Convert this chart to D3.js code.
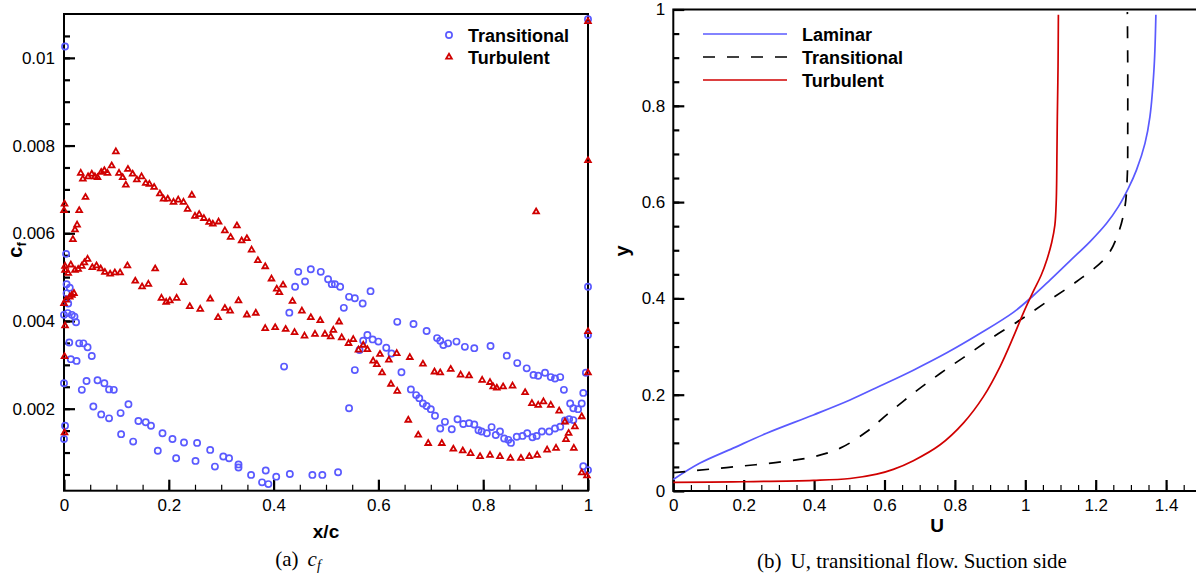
<!DOCTYPE html>
<html>
<head>
<meta charset="utf-8">
<script src="https://cdn.jsdelivr.net/npm/d3@7"></script>
<style>
body{margin:0;background:#fff;}
text{font-family:"Liberation Sans",Arial,Helvetica,sans-serif;fill:#000;}
.cap{font-family:"Liberation Serif","Times New Roman",serif;font-size:21px;}
</style>
</head>
<body>
<svg id="chart" width="1196" height="578"></svg>
<script>
// (a) skin friction, [x/c, cf]
var transitionalCf = [
    [0.002,0.01026],[0.004,0.00553],[0.005,0.00484],[0.011,0.00476],[0.005,0.00463],[0.008,0.00440],
    [0.000,0.00414],[0.007,0.00418],[0.015,0.00414],[0.020,0.00410],[0.023,0.00397],[0.010,0.00351],
    [0.029,0.00349],[0.037,0.00349],[0.045,0.00340],[0.053,0.00320],[0.013,0.00313],[0.024,0.00309],
    [0.000,0.00258],[0.034,0.00243],[0.043,0.00263],[0.064,0.00265],[0.077,0.00258],[0.086,0.00244],
    [0.095,0.00243],[0.056,0.00205],[0.071,0.00187],[0.086,0.00178],[0.108,0.00190],[0.123,0.00210],
    [0.002,0.00161],[0.000,0.00131],[0.109,0.00142],[0.132,0.00125],[0.142,0.00172],[0.156,0.00169],
    [0.166,0.00161],[0.179,0.00104],[0.188,0.00144],[0.207,0.00131],[0.214,0.00087],[0.229,0.00123],
    [0.251,0.00081],[0.254,0.00122],[0.279,0.00106],[0.288,0.00068],[0.304,0.00091],[0.315,0.00087],
    [0.333,0.00073],[0.333,0.00066],[0.357,0.00049],[0.378,0.00032],[0.385,0.00059],[0.390,0.00028],
    [0.405,0.00045],[0.431,0.00051],[0.474,0.00049],[0.493,0.00049],[0.523,0.00055],
    [0.420,0.00296],[0.430,0.00419],[0.441,0.00478],[0.447,0.00512],[0.460,0.00490],[0.471,0.00518],
    [0.490,0.00512],[0.504,0.00495],[0.511,0.00484],[0.517,0.00484],[0.527,0.00478],[0.534,0.00430],
    [0.544,0.00455],[0.555,0.00452],[0.570,0.00440],[0.585,0.00468],[0.544,0.00201],[0.555,0.00288],
    [0.564,0.00334],[0.571,0.00355],[0.579,0.00368],[0.589,0.00358],[0.600,0.00353],[0.615,0.00339],
    [0.625,0.00326],[0.644,0.00283],[0.636,0.00398],[0.667,0.00393],[0.692,0.00377],[0.712,0.00361],
    [0.718,0.00355],[0.724,0.00345],[0.733,0.00349],[0.749,0.00353],[0.765,0.00341],[0.783,0.00338],
    [0.814,0.00343],[0.845,0.00321],[0.865,0.00304],[0.883,0.00292],[0.896,0.00277],[0.905,0.00275],
    [0.918,0.00282],[0.929,0.00272],[0.937,0.00269],[0.947,0.00272],[0.954,0.00243],[0.966,0.00212],
    [0.972,0.00201],[0.981,0.00199],[0.988,0.00212],[0.991,0.00236],
    [0.662,0.00244],[0.672,0.00231],[0.678,0.00224],[0.685,0.00212],[0.692,0.00206],[0.700,0.00199],
    [0.708,0.00184],[0.718,0.00155],[0.727,0.00170],[0.740,0.00153],[0.751,0.00176],[0.762,0.00165],
    [0.773,0.00167],[0.783,0.00164],[0.791,0.00151],[0.797,0.00148],[0.807,0.00144],[0.816,0.00158],
    [0.824,0.00140],[0.832,0.00148],[0.840,0.00132],[0.848,0.00129],[0.853,0.00122],[0.864,0.00136],
    [0.875,0.00138],[0.884,0.00144],[0.894,0.00135],[0.902,0.00138],[0.912,0.00148],[0.926,0.00148],
    [0.937,0.00155],[0.947,0.00159],[0.956,0.00173],[0.964,0.00176],[0.972,0.00174],
    [1.000,0.01088],[1.000,0.00478],[1.000,0.00368],[0.996,0.00282],[0.991,0.00069],[1.000,0.00060]
];
var turbulentCf = [
    [0.001,0.00667],[0.000,0.00652],[0.002,0.00525],[0.002,0.00516],[0.000,0.00440],[0.002,0.00389],
    [0.001,0.00319],[0.001,0.00145],[0.004,0.00448],[0.011,0.00455],[0.015,0.00459],[0.019,0.00463],
    [0.017,0.00586],[0.021,0.00608],[0.025,0.00619],[0.029,0.00652],[0.032,0.00737],[0.036,0.00724],
    [0.041,0.00682],[0.046,0.00729],[0.053,0.00735],[0.059,0.00729],[0.064,0.00727],[0.071,0.00739],
    [0.077,0.00743],[0.083,0.00737],[0.091,0.00754],[0.099,0.00786],[0.105,0.00737],[0.112,0.00727],
    [0.118,0.00710],[0.122,0.00746],[0.131,0.00735],[0.139,0.00722],[0.148,0.00729],[0.156,0.00714],
    [0.163,0.00712],[0.172,0.00705],[0.183,0.00690],[0.190,0.00678],[0.198,0.00678],[0.209,0.00671],
    [0.218,0.00676],[0.228,0.00671],[0.236,0.00655],[0.244,0.00687],[0.250,0.00639],[0.258,0.00643],
    [0.267,0.00634],[0.277,0.00625],[0.284,0.00621],[0.295,0.00626],[0.307,0.00606],[0.318,0.00591],
    [0.330,0.00617],[0.339,0.00583],[0.349,0.00588],[0.358,0.00562],[0.370,0.00538],[0.384,0.00524],
    [0.396,0.00496],[0.406,0.00473],[0.411,0.00465],[0.418,0.00482],[0.436,0.00445],[0.454,0.00423],
    [0.471,0.00408],[0.489,0.00401],[0.514,0.00379],[0.525,0.00398],[0.543,0.00349],[0.562,0.00334],
    [0.579,0.00335],[0.597,0.00301],[0.607,0.00282],[0.624,0.00256],[0.636,0.00240],[0.657,0.00174],
    [0.676,0.00140],[0.695,0.00121],[0.721,0.00121],[0.743,0.00108],[0.761,0.00104],[0.776,0.00098],
    [0.794,0.00091],[0.813,0.00094],[0.832,0.00091],[0.852,0.00087],[0.872,0.00087],[0.888,0.00091],
    [0.903,0.00094],[0.922,0.00106],[0.939,0.00110],[0.958,0.00130],[0.973,0.00110],[0.988,0.00054],
    [0.998,0.00047],
    [0.008,0.00509],[0.013,0.00528],[0.021,0.00516],[0.027,0.00518],[0.034,0.00525],[0.039,0.00533],
    [0.045,0.00541],[0.054,0.00522],[0.062,0.00526],[0.070,0.00519],[0.078,0.00511],[0.088,0.00507],
    [0.097,0.00510],[0.107,0.00510],[0.121,0.00526],[0.136,0.00491],[0.149,0.00478],[0.161,0.00484],
    [0.174,0.00519],[0.186,0.00452],[0.195,0.00443],[0.202,0.00446],[0.215,0.00452],[0.228,0.00488],
    [0.240,0.00433],[0.260,0.00427],[0.279,0.00450],[0.294,0.00408],[0.307,0.00429],[0.317,0.00423],
    [0.333,0.00446],[0.349,0.00414],[0.366,0.00418],[0.384,0.00383],[0.403,0.00385],[0.423,0.00381],
    [0.440,0.00374],[0.459,0.00366],[0.479,0.00370],[0.498,0.00370],[0.509,0.00364],[0.530,0.00362],
    [0.552,0.00358],[0.571,0.00345],[0.590,0.00309],[0.603,0.00324],[0.620,0.00311],[0.635,0.00326],
    [0.660,0.00317],[0.685,0.00302],[0.707,0.00284],[0.718,0.00282],[0.738,0.00290],[0.757,0.00277],
    [0.773,0.00275],[0.798,0.00265],[0.813,0.00260],[0.819,0.00250],[0.826,0.00247],[0.838,0.00250],
    [0.856,0.00252],[0.880,0.00237],[0.893,0.00212],[0.905,0.00208],[0.915,0.00216],[0.929,0.00208],
    [0.945,0.00195],[0.956,0.00170],[0.963,0.00144],[0.975,0.00159],[0.988,0.00182],
    [1.000,0.01083],[1.000,0.00766],[1.000,0.00376],[1.000,0.00282],[0.901,0.00649]
];
var cfXTicks = [0, 0.2, 0.4, 0.6, 0.8, 1];
var cfYTicks = [0.002, 0.004, 0.006, 0.008, 0.01];

// (b) velocity profiles, [U, y]
var laminarU = [
    [0,0.024],[0.076,0.058],[0.170,0.089],[0.265,0.120],[0.398,0.158],[0.502,0.189],[0.587,0.218],
    [0.682,0.251],[0.777,0.287],[0.871,0.327],[0.966,0.371],[1.023,0.406],[1.070,0.438],[1.127,0.478],
    [1.184,0.518],[1.231,0.556],[1.264,0.590],[1.293,0.629],[1.316,0.667],[1.340,0.722],[1.354,0.777],
    [1.366,0.881],[1.371,0.989]
];
var transitionalU = [
    [0,0.038],[0.057,0.042],[0.170,0.050],[0.313,0.061],[0.398,0.071],[0.474,0.089],[0.549,0.123],
    [0.606,0.158],[0.682,0.203],[0.758,0.244],[0.834,0.282],[0.909,0.320],[0.985,0.355],[1.061,0.393],
    [1.146,0.435],[1.231,0.487],[1.264,0.535],[1.283,0.590],[1.290,0.660],[1.291,0.743],[1.291,0.881],
    [1.290,0.995]
];
var turbulentU = [
    [0,0.018],[0.170,0.019],[0.398,0.022],[0.502,0.026],[0.578,0.035],[0.625,0.045],[0.682,0.063],
    [0.758,0.096],[0.824,0.141],[0.881,0.196],[0.928,0.258],[0.966,0.320],[0.994,0.369],[1.023,0.415],
    [1.045,0.448],[1.062,0.482],[1.075,0.516],[1.084,0.552],[1.088,0.604],[1.090,0.708],[1.091,0.777],
    [1.093,0.881],[1.094,0.989]
];
var uXTicks = [0, 0.2, 0.4, 0.6, 0.8, 1, 1.2, 1.4];
var uYTicks = [0, 0.2, 0.4, 0.6, 0.8, 1];

var blue = "#5a5aff", red = "#d00000";
var svg = d3.select("#chart");
svg.append("rect").attr("width", 1196).attr("height", 578).attr("fill", "#fff");

var boxA = {x0: 64, x1: 588, y0: 14, y1: 490.7};
var boxB = {x0: 673.3, x1: 1201.3, y0: 9.5, y1: 491};

var xA = d3.scaleLinear().domain([0, 1]).range([boxA.x0, boxA.x1]);
var yA = d3.scaleLinear().domain([0.00013, 0.011]).range([boxA.y1, boxA.y0]);
var xB = d3.scaleLinear().domain([0, 1.5]).range([boxB.x0, boxB.x1]);
var yB = d3.scaleLinear().domain([0, 1]).range([boxB.y1, boxB.y0]);

function drawAxes(box, x, y, xMajor, xMinor, yMajor, yMinor, pad){
    var fmt = d3.format("~g");
    svg.append("rect").attr("x", box.x0).attr("y", box.y0)
        .attr("width", box.x1 - box.x0).attr("height", box.y1 - box.y0)
        .attr("fill", "none").attr("stroke", "#000").attr("stroke-width", 2);

    var gx = svg.append("g").attr("transform", "translate(0," + box.y1 + ")");
    gx.append("g").call(d3.axisBottom(x).tickValues(xMinor).tickSize(-6).tickFormat(""));
    gx.append("g").call(d3.axisBottom(x).tickValues(xMajor).tickSize(-11).tickPadding(pad.x).tickFormat(fmt));

    var gy = svg.append("g").attr("transform", "translate(" + box.x0 + ",0)");
    gy.append("g").call(d3.axisLeft(y).tickValues(yMinor).tickSize(-6).tickFormat(""));
    gy.append("g").call(d3.axisLeft(y).tickValues(yMajor).tickSize(-11).tickPadding(pad.y).tickFormat(fmt));

    [gx, gy].forEach(function(g){
        g.selectAll(".domain").remove();
        g.selectAll("line").attr("stroke", "#000").attr("stroke-width", 1.2);
        g.selectAll("g:last-child .tick line").attr("stroke-width", 2.2);
        g.selectAll("text").attr("font-size", 17).attr("font-family", "Liberation Sans, Arial, sans-serif").attr("fill", "#000");
    });
}

// ---- panel (a)
drawAxes(boxA, xA, yA, cfXTicks, d3.range(0.05, 1, 0.05), cfYTicks, d3.range(0.0005, 0.0108, 0.0005), {x: 8, y: 9});

svg.append("g").selectAll("circle").data(transitionalCf).enter().append("circle")
    .attr("cx", function(d){ return xA(d[0]); })
    .attr("cy", function(d){ return yA(d[1]); })
    .attr("r", 3.1).attr("fill", "none").attr("stroke", blue).attr("stroke-width", 1.7);

var tri = d3.symbol().type(d3.symbolTriangle).size(14);
svg.append("g").selectAll("path").data(turbulentCf).enter().append("path")
    .attr("d", tri)
    .attr("transform", function(d){ return "translate(" + xA(d[0]) + "," + yA(d[1]) + ")"; })
    .attr("fill", "none").attr("stroke", red).attr("stroke-width", 1.8);

// legend (a)
svg.append("circle").attr("cx", 449).attr("cy", 35).attr("r", 3.1).attr("fill", "none").attr("stroke", blue).attr("stroke-width", 1.7);
svg.append("path").attr("d", tri).attr("transform", "translate(449,57)").attr("fill", "none").attr("stroke", red).attr("stroke-width", 1.8);
svg.append("text").attr("x", 468).attr("y", 41.5).attr("font-size", 18).attr("font-weight", "bold").text("Transitional");
svg.append("text").attr("x", 468).attr("y", 63.5).attr("font-size", 18).attr("font-weight", "bold").text("Turbulent");

svg.append("text").attr("x", 326).attr("y", 538).attr("text-anchor", "middle")
    .attr("font-size", 19).attr("font-weight", "bold").text("x/c");
var cfLab = svg.append("text").attr("transform", "translate(22,250) rotate(-90)")
    .attr("text-anchor", "middle").attr("font-size", 20).attr("font-weight", "bold");
cfLab.append("tspan").text("c");
cfLab.append("tspan").attr("font-size", 13).attr("dy", 4).text("f");

var capA = svg.append("text").attr("class", "cap").attr("x", 298).attr("y", 566).attr("text-anchor", "middle");
capA.append("tspan").text("(a)");
capA.append("tspan").attr("dx", 9).attr("font-style", "italic").text("c");
capA.append("tspan").attr("font-style", "italic").attr("font-size", 14).attr("dy", 4).text("f");

// ---- panel (b)
drawAxes(boxB, xB, yB, uXTicks, d3.range(0.05, 1.5, 0.05), uYTicks, d3.range(0.05, 1, 0.05), {x: 8, y: 8});

var line = d3.line().x(function(d){ return xB(d[0]); }).y(function(d){ return yB(d[1]); }).curve(d3.curveCatmullRom.alpha(0.5));
var profiles = [
    {name: "Laminar", data: laminarU, color: blue, dash: null},
    {name: "Transitional", data: transitionalU, color: "#000", dash: "12,12"},
    {name: "Turbulent", data: turbulentU, color: red, dash: null}
];
profiles.forEach(function(p, i){
    svg.append("path").attr("d", line(p.data)).attr("fill", "none")
        .attr("stroke", p.color).attr("stroke-width", 1.7).attr("stroke-dasharray", p.dash);
    var ly = 34 + i * 23;
    svg.append("line").attr("x1", 703).attr("x2", 787).attr("y1", ly).attr("y2", ly)
        .attr("stroke", p.color).attr("stroke-width", 1.7).attr("stroke-dasharray", p.dash);
    svg.append("text").attr("x", 802).attr("y", ly + 6.5).attr("font-size", 18).attr("font-weight", "bold").text(p.name);
});

svg.append("text").attr("x", 937).attr("y", 532).attr("text-anchor", "middle")
    .attr("font-size", 19).attr("font-weight", "bold").text("U");
svg.append("text").attr("transform", "translate(629,251) rotate(-90)").attr("text-anchor", "middle")
    .attr("font-size", 20).attr("font-weight", "bold").text("y");

var capB = svg.append("text").attr("class", "cap").attr("x", 912).attr("y", 568).attr("text-anchor", "middle");
capB.append("tspan").text("(b)");
capB.append("tspan").attr("dx", 9).text("U, transitional flow. Suction side");
</script>
</body>
</html>
